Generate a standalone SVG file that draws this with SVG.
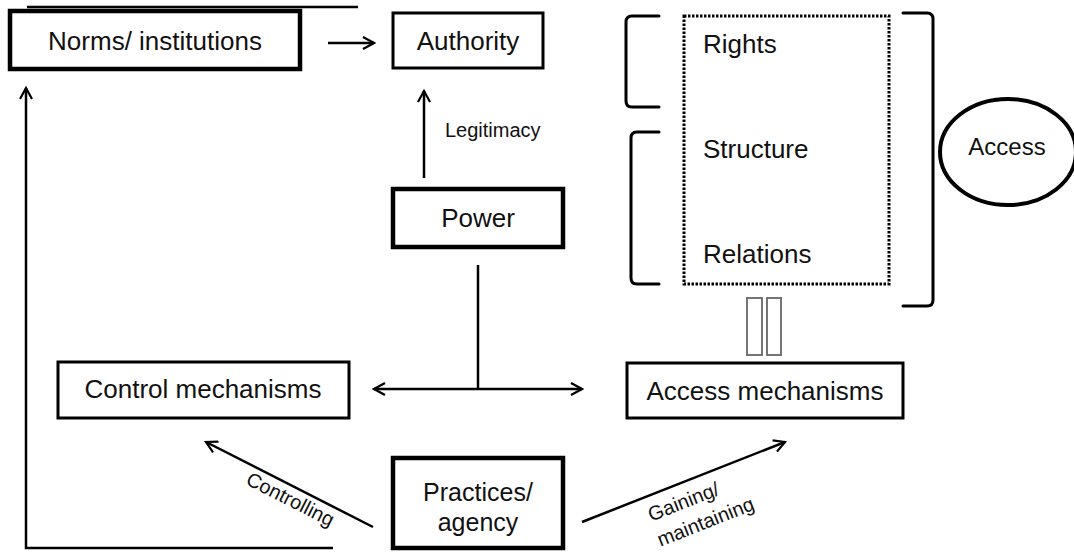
<svg xmlns="http://www.w3.org/2000/svg" width="1074" height="552" viewBox="0 0 1074 552">
<style>
text { font-family: "Liberation Sans", Arial, sans-serif; fill: #111; }
.lbl { font-size: 26px; }
.small { font-size: 20px; }
.box { fill: #fff; stroke: #000; }
.thick { stroke-width: 4.5; }
.thin { stroke-width: 3; }
.ln { fill: none; stroke: #000; stroke-width: 2.5; }
.br { fill: none; stroke: #000; stroke-width: 3; stroke-linecap: round; }
</style>
<defs>
<marker id="arr" viewBox="0 0 14 14" refX="12" refY="7" markerWidth="14" markerHeight="14" markerUnits="userSpaceOnUse" orient="auto-start-reverse">
<path d="M1,1 L12,7 L1,13" fill="none" stroke="#000" stroke-width="2.2"/>
</marker>
</defs>
<rect width="1074" height="552" fill="#fff"/>

<g id="connectors">
<line class="ln" x1="27" y1="7" x2="358" y2="7" stroke-width="2"/>
<line class="ln" x1="328" y1="43" x2="374" y2="43" marker-end="url(#arr)"/>
<line class="ln" x1="424" y1="178" x2="424" y2="91" marker-end="url(#arr)"/>
<line class="ln" x1="478" y1="265" x2="478" y2="389" stroke-width="3"/>
<line class="ln" x1="374" y1="389" x2="582" y2="389" stroke-width="3" marker-start="url(#arr)" marker-end="url(#arr)"/>
<polyline class="ln" points="333,548 26,548 26,88" stroke-width="3" marker-end="url(#arr)"/>
<line class="ln" x1="373" y1="527" x2="206" y2="442" marker-end="url(#arr)"/>
<line class="ln" x1="582" y1="522" x2="785" y2="442" marker-end="url(#arr)"/>
<rect x="747" y="298" width="15" height="57" fill="none" stroke="#666" stroke-width="1.8"/>
<rect x="767" y="298" width="14" height="57" fill="none" stroke="#666" stroke-width="1.8"/>
<path class="br" d="M659,16 L632,16 Q626,16 626,22 L626,101 Q626,107 632,107 L659,107"/>
<path class="br" d="M659,132 L637,132 Q631,132 631,138 L631,278 Q631,284 637,284 L659,284"/>
<path class="br" d="M903,13 L927,13 Q933,13 933,19 L933,300 Q933,306 927,306 L903,306"/>
</g>

<g id="legitimacy-label"><text class="small" x="445" y="137" fill="#222">Legitimacy</text></g>
<g id="controlling-label"><text class="small" text-anchor="middle" transform="translate(290,500) rotate(26.8)" y="6">Controlling</text></g>
<g id="gaining-label">
<text class="small" text-anchor="middle" transform="translate(686,508) rotate(-21.5)">Gaining/</text>
<text class="small" text-anchor="middle" transform="translate(708,528) rotate(-21.5)">maintaining</text>
</g>

<g id="norms"><rect class="box thick" x="10" y="11" width="290" height="58"/><text class="lbl" x="155" y="50" text-anchor="middle">Norms/ institutions</text></g>
<g id="authority"><rect class="box thin" x="393" y="13" width="150" height="55"/><text class="lbl" x="468" y="50" text-anchor="middle">Authority</text></g>
<g id="power"><rect class="box thick" x="393" y="189" width="170" height="58"/><text class="lbl" x="478" y="227" text-anchor="middle">Power</text></g>
<g id="control"><rect class="box thin" x="58" y="362" width="291" height="56"/><text class="lbl" x="203" y="398" text-anchor="middle">Control mechanisms</text></g>
<g id="access-mech"><rect class="box thin" x="627" y="363" width="276" height="55"/><text class="lbl" x="765" y="400" text-anchor="middle">Access mechanisms</text></g>
<g id="practices"><rect class="box thick" x="393" y="458" width="170" height="90"/><text x="478" y="501" text-anchor="middle" font-size="25">Practices/</text><text x="478" y="531" text-anchor="middle" font-size="25">agency</text></g>
<g id="dimensions">
<rect x="684" y="16" width="205" height="268" fill="none" stroke="#000" stroke-width="3" stroke-dasharray="2.5,1.5"/>
<text class="lbl" x="703" y="53">Rights</text>
<text class="lbl" x="703" y="158">Structure</text>
<text class="lbl" x="703" y="263">Relations</text>
</g>
<g id="access"><ellipse cx="1008" cy="152" rx="68" ry="53" fill="#fff" stroke="#000" stroke-width="4"/><text x="1007" y="155" text-anchor="middle" font-size="24">Access</text></g>
</svg>
